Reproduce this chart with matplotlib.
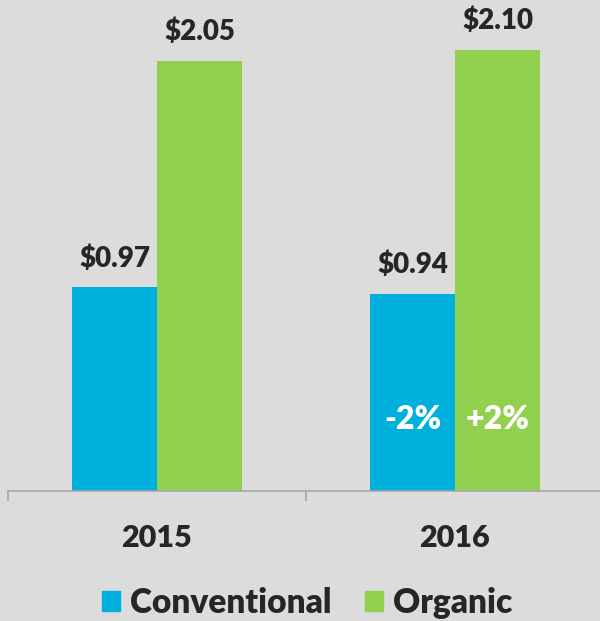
import numpy as np
import matplotlib
matplotlib.use("Agg")
import matplotlib.pyplot as plt
from matplotlib.patches import Patch

years = ["2015", "2016"]
conventional = [0.97, 0.94]
organic = [2.05, 2.10]
change_labels = ["-2%", "+2%"]  # shown inside the 2016 bars

BLUE = "#00b0dc"
GREEN = "#92d050"
BG = "#dcdcdc"
TEXT = "#262626"
WT = "heavy"

plt.rcParams['font.family'] = ['Lato', 'DejaVu Sans']
plt.rcParams['font.weight'] = WT

fig = plt.figure(figsize=(6, 6.21), dpi=100, facecolor=BG)
ax = fig.add_axes([8 / 600, 130 / 621, 596 / 600, 491 / 621], facecolor=BG)

x = np.arange(len(years))
w = 0.285
b1 = ax.bar(x - w / 2, conventional, w, color=BLUE, label="Conventional")
b2 = ax.bar(x + w / 2, organic, w, color=GREEN, label="Organic")

for bars, vals in [(b1, conventional), (b2, organic)]:
    for rect, v in zip(bars, vals):
        ax.text(rect.get_x() + rect.get_width() / 2, v + 0.075, f"${v:.2f}",
                ha="center", va="bottom", fontsize=20, fontweight=WT, color=TEXT)

# percent change inside the 2016 bars
ax.text(x[1] - w / 2, 0.34, change_labels[0], ha="center", va="center",
        fontsize=23, fontweight=WT, color="white")
ax.text(x[1] + w / 2, 0.34, change_labels[1], ha="center", va="center",
        fontsize=23, fontweight=WT, color="white")

ax.set_xlim(-0.5, 1.5)
ax.set_ylim(0, 491 / 210)

for s in ["top", "right", "left"]:
    ax.spines[s].set_visible(False)
ax.spines["bottom"].set_color("#a6a6a6")
ax.spines["bottom"].set_linewidth(1.2)

ax.set_yticks([])
ax.set_xticks(x)
ax.set_xticklabels(years, fontsize=22, fontweight=WT, color=TEXT)
ax.tick_params(axis="x", which="major", length=0, pad=24)
ax.set_xticks([-0.5, 0.5, 1.5], minor=True)
ax.tick_params(axis="x", which="minor", length=7, width=1.2, color="#a6a6a6")

handles = [Patch(color=BLUE), Patch(color=GREEN)]
fig.legend(handles, ["Conventional", "Organic"], loc="center",
           bbox_to_anchor=(0.512, 0.029), ncol=2, frameon=False,
           prop={"size": 24, "weight": WT}, labelcolor=TEXT,
           handlelength=0.55, handleheight=0.55, handletextpad=0.3,
           columnspacing=1.0, borderaxespad=0)

fig.savefig("out.png", dpi=100, facecolor=BG)
